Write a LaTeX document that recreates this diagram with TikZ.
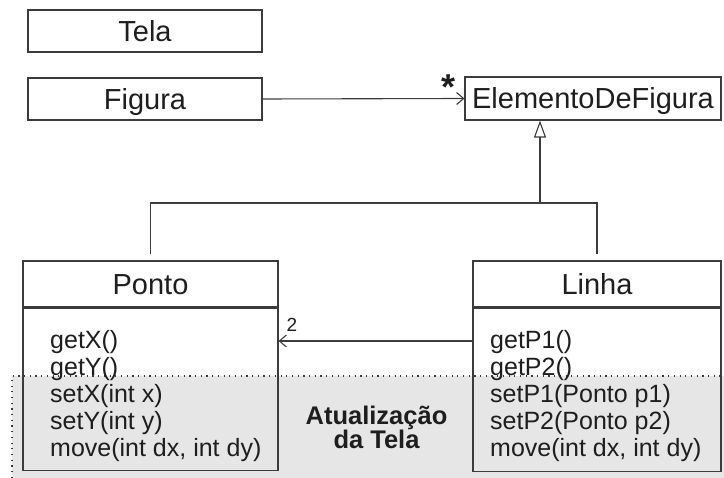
\documentclass[tikz,border=0pt]{standalone}
\usepackage{fontspec}
\setmainfont{Liberation Sans}
\usetikzlibrary{arrows.meta}
\definecolor{linecol}{HTML}{3C3C3C}
\definecolor{txtcol}{HTML}{1E1E1E}
\definecolor{zonefill}{HTML}{E6E6E6}
\begin{document}
\begin{tikzpicture}[x=1pt,y=-1pt,
  every node/.style={text=txtcol},
  box/.style={draw=linecol, line width=1.1pt, rectangle, inner sep=0pt,
    font=\fontsize{29}{31}\selectfont, text height=20.5pt, text depth=0pt},
  body/.style={draw=linecol, line width=1.1pt, rectangle, inner sep=0pt},
  meth/.style={anchor=base west, inner sep=0pt, font=\fontsize{25}{27}\selectfont},
  conn/.style={draw=linecol, line width=1.1pt},
  assoc/.style={conn, -{Straight Barb[length=7pt,width=12pt,line width=1.1pt]}},
  inh/.style={conn, -{Triangle[open,length=17pt,width=12pt,line width=1.1pt]}},
  note/.style={font=\bfseries\fontsize{25.5}{26}\selectfont, align=center, inner sep=0pt}
]
\useasboundingbox (0,0) rectangle (724,478);

% shaded update zone
\fill[zonefill] (12,376) rectangle (724,478);
\draw[linecol, line width=1.1pt, dash pattern=on 1.2pt off 4.5pt] (12,478) -- (12,376) -- (720,376);

% simple classes
\node[box, minimum width=234pt, minimum height=42pt] (tela) at (145,31) {Tela};
\node[box, minimum width=234pt, minimum height=42pt] (figura) at (145,99) {Figura};
\node[box, minimum width=256pt, minimum height=43pt] (elem) at (593,98.5) {ElementoDeFigura};

% Ponto
\node[box, minimum width=255pt, minimum height=46pt] (ponto) at (150.5,284) {Ponto};
\node[body, minimum width=255pt, minimum height=162pt, anchor=north] (pbody) at (ponto.south) {};
\foreach \t [count=\i] in {getX(), getY(), setX(int x), setY(int y), {move(int dx, int dy)}}
  \node[meth] (pm\i) at (50, 322+27*\i) {\t};

% Linha
\node[box, minimum width=248pt, minimum height=46pt] (linha) at (597,284) {Linha};
\node[body, minimum width=248pt, minimum height=163pt, anchor=north] (lbody) at (linha.south) {};
\foreach \t [count=\i] in {getP1(), getP2(), setP1(Ponto p1), setP2(Ponto p2), {move(int dx, int dy)}}
  \node[meth] (lm\i) at (490, 322+27*\i) {\t};

% zone label
\node[note] (zona) at (376.5,427) {Atualização\\[-2pt]da Tela};

% association Figura -> ElementoDeFigura
\draw[assoc] (figura.east) -- (elem.west);
\node[font=\bfseries\fontsize{36}{36}\selectfont, inner sep=0pt] (mult) at (449,87) {*};

% association Linha -> Ponto
\coordinate (lvl) at (0,341);
\draw[assoc] (lbody.west |- lvl) -- (pbody.east |- lvl);
\node[font=\fontsize{19}{19}\selectfont, inner sep=0pt] (two) at (292,325) {2};

% generalisation
\coordinate (join) at (540,203);
\draw[conn] ([yshift=6pt]ponto.north) |- (linha.north |- join) -- ([yshift=6pt]linha.north);
\draw[inh] (join) -- (join |- elem.south);
\end{tikzpicture}
\end{document}
